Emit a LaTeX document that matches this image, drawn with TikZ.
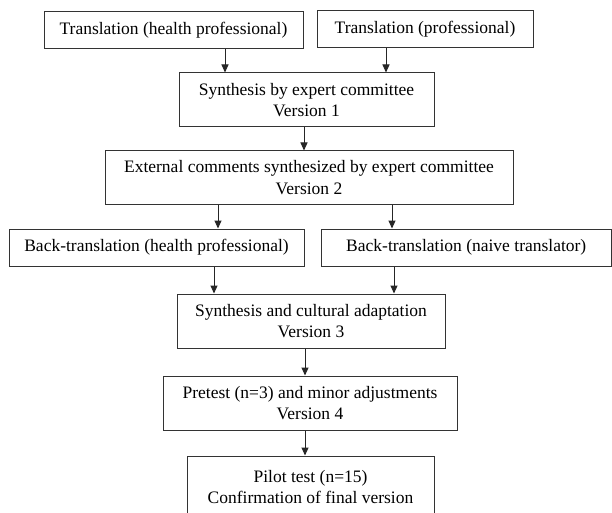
\documentclass[tikz,border=0pt]{standalone}
\usepackage{fontspec}
\setmainfont{Liberation Serif}
\usetikzlibrary{arrows.meta}

\begin{document}
\begin{tikzpicture}[x=1pt,y=-1pt,
	box/.style={draw=black!80,line width=1pt,align=center,inner sep=0pt,
		font=\fontsize{17.5}{21.5}\selectfont},
	arr/.style={draw=black!85,line width=1pt,-{Triangle[length=8pt,width=7pt]}}]
	\clip (0,0) rectangle (612,513);
	\fill[white] (0,0) rectangle (612,513);
	% forward translations
	\node[box,minimum width=259pt,minimum height=37pt] (trhp) at (173.5,30.5) {Translation (health professional)};
	\node[box,minimum width=216pt,minimum height=37pt] (trp) at (425,29.5) {Translation (professional)};
	\node[box,minimum width=255pt,minimum height=54pt] (syn1) at (306.5,100) {Synthesis by expert committee\\Version 1};
	\node[box,minimum width=408pt,minimum height=53pt] (ext2) at (309,177.5) {External comments synthesized by expert committee\\Version 2};
	% back-translations
	\node[box,minimum width=295pt,minimum height=37pt] (bthp) at (156.5,247.5) {Back-translation (health professional)};
	\node[box,minimum width=290.5pt,minimum height=37pt] (btnt) at (466.25,247.5) {Back-translation (naive translator)};
	\node[box,minimum width=268pt,minimum height=54pt] (syn3) at (311,321) {Synthesis and cultural adaptation\\Version 3};
	\node[box,minimum width=294pt,minimum height=54pt] (pre4) at (310,403) {Pretest (n=3) and minor adjustments\\Version 4};
	\node[box,minimum width=247pt,minimum height=62pt] (pilot) at (310.5,487) {Pilot test (n=15)\\Confirmation of final version};
	% arrow columns
	\coordinate (a1) at (225,0);
	\coordinate (a2) at (386,0);
	\coordinate (a3) at (304,0);
	\coordinate (a4) at (218,0);
	\coordinate (a5) at (392,0);
	\coordinate (a6) at (214,0);
	\coordinate (a7) at (394,0);
	\coordinate (a8) at (305,0);
	\draw[arr] (trhp.south -| a1) -- (syn1.north -| a1);
	\draw[arr] (trp.south -| a2) -- (syn1.north -| a2);
	\draw[arr] (syn1.south -| a3) -- (ext2.north -| a3);
	\draw[arr] (ext2.south -| a4) -- (bthp.north -| a4);
	\draw[arr] (ext2.south -| a5) -- (btnt.north -| a5);
	\draw[arr] (bthp.south -| a6) -- (syn3.north -| a6);
	\draw[arr] (btnt.south -| a7) -- (syn3.north -| a7);
	\draw[arr] (syn3.south -| a8) -- (pre4.north -| a8);
	\draw[arr] (pre4.south -| a8) -- (pilot.north -| a8);
\end{tikzpicture}
\end{document}
